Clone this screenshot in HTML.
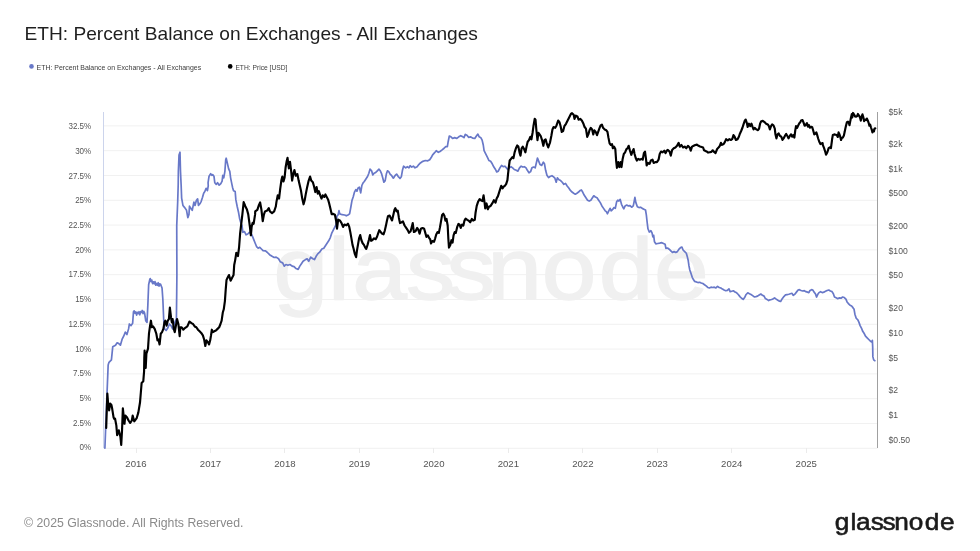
<!DOCTYPE html>
<html lang="en"><head><meta charset="utf-8"><title>ETH: Percent Balance on Exchanges - All Exchanges</title>
<style>
html,body{margin:0;padding:0;background:#fff}
body{width:980px;height:551px;overflow:hidden}
svg{display:block}
text{font-family:"Liberation Sans",sans-serif}
</style></head><body>
<svg width="980" height="551" viewBox="0 0 980 551">
<rect width="980" height="551" fill="#fff"/>
<g stroke="#f1f1f1" stroke-width="1">
<line x1="103.5" y1="448.3" x2="877.5" y2="448.3"/>
<line x1="103.5" y1="423.5" x2="877.5" y2="423.5"/>
<line x1="103.5" y1="398.7" x2="877.5" y2="398.7"/>
<line x1="103.5" y1="373.9" x2="877.5" y2="373.9"/>
<line x1="103.5" y1="349.1" x2="877.5" y2="349.1"/>
<line x1="103.5" y1="324.3" x2="877.5" y2="324.3"/>
<line x1="103.5" y1="299.5" x2="877.5" y2="299.5"/>
<line x1="103.5" y1="274.7" x2="877.5" y2="274.7"/>
<line x1="103.5" y1="249.9" x2="877.5" y2="249.9"/>
<line x1="103.5" y1="225.1" x2="877.5" y2="225.1"/>
<line x1="103.5" y1="200.3" x2="877.5" y2="200.3"/>
<line x1="103.5" y1="175.5" x2="877.5" y2="175.5"/>
<line x1="103.5" y1="150.7" x2="877.5" y2="150.7"/>
<line x1="103.5" y1="125.9" x2="877.5" y2="125.9"/>
</g>
<g stroke="#ebebeb" stroke-width="1" shape-rendering="crispEdges">
<line x1="136" y1="448" x2="136" y2="453"/>
<line x1="210.47" y1="448" x2="210.47" y2="453"/>
<line x1="284.94" y1="448" x2="284.94" y2="453"/>
<line x1="359.41" y1="448" x2="359.41" y2="453"/>
<line x1="433.88" y1="448" x2="433.88" y2="453"/>
<line x1="508.35" y1="448" x2="508.35" y2="453"/>
<line x1="582.82" y1="448" x2="582.82" y2="453"/>
<line x1="657.29" y1="448" x2="657.29" y2="453"/>
<line x1="731.76" y1="448" x2="731.76" y2="453"/>
<line x1="806.23" y1="448" x2="806.23" y2="453"/>
</g>
<text transform="scale(1.13,1)" x="242.04 290.34 311.69 359.39 395.19 431.30 479.35 529.87 578.78" y="299.2" font-size="87" fill="#f0f0f0" stroke="#f0f0f0" stroke-width="1.4" stroke-linejoin="round">glassnode</text>
<line x1="103.5" y1="112" x2="103.5" y2="448" stroke="#ccd4ec" stroke-width="1" shape-rendering="crispEdges"/>
<line x1="877.5" y1="112" x2="877.5" y2="448" stroke="#a0a0a0" stroke-width="1" shape-rendering="crispEdges"/>
<g font-size="8.5" fill="#555" text-anchor="end">
<text x="91.2" y="450.40" textLength="11.61" lengthAdjust="spacingAndGlyphs">0%</text>
<text x="91.2" y="425.69" textLength="18.31" lengthAdjust="spacingAndGlyphs">2.5%</text>
<text x="91.2" y="400.98" textLength="11.61" lengthAdjust="spacingAndGlyphs">5%</text>
<text x="91.2" y="376.27" textLength="18.31" lengthAdjust="spacingAndGlyphs">7.5%</text>
<text x="91.2" y="351.56" textLength="16.07" lengthAdjust="spacingAndGlyphs">10%</text>
<text x="91.2" y="326.85" textLength="22.77" lengthAdjust="spacingAndGlyphs">12.5%</text>
<text x="91.2" y="302.14" textLength="16.07" lengthAdjust="spacingAndGlyphs">15%</text>
<text x="91.2" y="277.43" textLength="22.77" lengthAdjust="spacingAndGlyphs">17.5%</text>
<text x="91.2" y="252.72" textLength="16.07" lengthAdjust="spacingAndGlyphs">20%</text>
<text x="91.2" y="228.01" textLength="22.77" lengthAdjust="spacingAndGlyphs">22.5%</text>
<text x="91.2" y="203.30" textLength="16.07" lengthAdjust="spacingAndGlyphs">25%</text>
<text x="91.2" y="178.59" textLength="22.77" lengthAdjust="spacingAndGlyphs">27.5%</text>
<text x="91.2" y="153.88" textLength="16.07" lengthAdjust="spacingAndGlyphs">30%</text>
<text x="91.2" y="129.17" textLength="22.77" lengthAdjust="spacingAndGlyphs">32.5%</text>
</g>
<g font-size="8.6" fill="#555">
<text x="888.6" y="114.7">$5k</text>
<text x="888.6" y="147.4">$2k</text>
<text x="888.6" y="171.9">$1k</text>
<text x="888.6" y="196.4">$500</text>
<text x="888.6" y="229">$200</text>
<text x="888.6" y="253.8">$100</text>
<text x="888.6" y="278">$50</text>
<text x="888.6" y="311">$20</text>
<text x="888.6" y="336">$10</text>
<text x="888.6" y="360.7">$5</text>
<text x="888.6" y="393.4">$2</text>
<text x="888.6" y="418.2">$1</text>
<text x="888.6" y="442.7">$0.50</text>
</g>
<g font-size="9.6" fill="#555" text-anchor="middle">
<text x="136" y="467.3">2016</text>
<text x="210.47" y="467.3">2017</text>
<text x="284.94" y="467.3">2018</text>
<text x="359.41" y="467.3">2019</text>
<text x="433.88" y="467.3">2020</text>
<text x="508.35" y="467.3">2021</text>
<text x="582.82" y="467.3">2022</text>
<text x="657.29" y="467.3">2023</text>
<text x="731.76" y="467.3">2024</text>
<text x="806.23" y="467.3">2025</text>
</g>
<path d="M104.9,448.27 L106.53,405.82 L108.16,365 L108.98,362.35 L111.43,359.9 L112.73,346.84 L115.51,345.2 L117.14,342.76 L118.78,343.57 L120.41,345.2 L122.04,339.49 L123.67,336.22 L125.31,332.14 L126.94,334.59 L128.57,328.88 L129.39,323.98 L131.02,325.61 L132.65,323.16 L133.47,311.73 L134.2,310.85 L135,313.29 L135.8,311.96 L136.6,315.12 L137.4,312.28 L138.2,313.52 L139,311.75 L139.8,314.76 L140.6,311.68 L141.4,312.43 L142.2,310.5 L143,313.66 L143.8,311.41 L144.6,313.04 L145.71,320.71 L147.02,322.35 L147.84,305.2 L148.65,284.8 L149.8,279.41 L150.2,278.53 L151,281.57 L151.8,280.07 L152.6,283.67 L153.4,281.79 L154.2,283.79 L155,281.61 L155.8,285.21 L156.6,283.41 L157.4,285.25 L158.2,282.74 L159,286.1 L159.8,283.9 L160.6,284.36 L162.04,288.06 L162.86,299.49 L163.67,319.08 L164.49,328.88 L166.12,330.51 L167.76,328.06 L169.39,323.98 L171.02,325.61 L172.65,328.88 L174.29,323.98 L175.43,320.71 L176.41,319.08 L176.73,291.33 L176.9,275 L176.73,225.82 L177.71,201.33 L178.2,185 L178.37,171.29 L179.02,154.96 L180,152.18 L180.49,171.29 L181.14,185 L181.63,198.06 L182.94,205.41 L184.9,207.86 L186.53,210.31 L187.84,217.65 L188.98,214.39 L189.47,206.22 L191.1,208.67 L192.24,210.31 L193.88,202.14 L195.02,205.41 L196.33,200.51 L197.63,198.88 L198.45,205.41 L199.92,203.78 L201.22,201.33 L202.53,197.24 L203.67,193.16 L204.82,191.53 L206.12,188.27 L207.43,190.71 L208.24,185.82 L208.08,182.71 L209.06,176.18 L210.69,173.73 L211.84,175.37 L212.65,174.55 L213.96,176.18 L214.78,182.71 L216.24,184.35 L217.55,182.71 L219.18,185.16 L220.82,183.53 L222.12,181.08 L222.78,175.37 L223.76,177.82 L224.9,171.29 L225.71,159.86 L226.2,158.22 L227.35,163.12 L228.65,168.84 L229.8,171.29 L230.61,177.82 L231.92,184.35 L232.57,187.45 L233.55,190.71 L235.18,191.53 L235.84,199.69 L237.14,206.22 L238.45,211.94 L239.59,218.47 L240.73,222.55 L242.04,225.82 L242.86,232.35 L244.49,231.53 L246.12,234.8 L247.76,233.98 L249.39,232.35 L250,232.65 L251.63,234.29 L253.27,238.37 L254.9,242.45 L256.53,246.53 L258.16,248.16 L259.8,247.35 L261.43,248.98 L263.06,250.61 L265.51,250.94 L267.14,252.24 L269.59,254.69 L272.04,256.33 L274.16,257.47 L276.12,257.14 L278.57,258.78 L280.2,261.71 L282.65,262.86 L284.29,266.12 L285.92,264.49 L287.88,265.31 L290,264.49 L292.12,266.12 L294.08,266.61 L296.04,268.57 L298.16,269.39 L299.8,266.12 L301.43,263.67 L303.06,261.22 L305.51,259.59 L307.14,258.78 L308.78,261.22 L310.73,257.14 L312.86,258.78 L314.49,259.59 L316.12,256.33 L317.76,253.88 L319.88,251.92 L321.84,248.98 L323.8,248.16 L325.43,245.71 L327.06,243.27 L328.69,240.82 L330.33,237.55 L331.63,233.47 L333.27,230.2 L334.9,226.94 L336.2,224.49 L336.86,216.33 L338.16,214.69 L338.98,210.61 L339.8,213.88 L342.24,214.69 L344.69,215.02 L346.33,215.84 L347.96,215.02 L349.59,213.88 L350.9,206.73 L352.04,200.2 L353.18,196.94 L354.49,192.04 L355.8,189.59 L356.94,191.22 L358.08,187.96 L359.39,187.14 L360.69,192.86 L361.84,185.51 L362.98,183.06 L364.29,181.43 L365.92,178.98 L367.55,176.53 L368.86,173.27 L370,169.18 L371.63,170.82 L372.78,174.9 L374.08,173.27 L375.71,172.45 L377.35,170.82 L378.98,169.18 L380.29,170.82 L381.43,173.27 L382.57,177.35 L383.88,182.24 L385.18,180.61 L386.33,174.08 L387.47,170.82 L388.78,171.63 L390.08,174.08 L391.71,175.71 L393.35,178.16 L394.98,175.71 L396.61,174.08 L398.24,176.53 L399.39,177.67 L400,178.47 L401.31,176.84 L402.45,170.31 L403.59,166.22 L405.71,167.86 L407.35,166.71 L408.98,167.86 L410.12,165.73 L411.76,167.04 L413.39,166.22 L415.02,167.86 L417.14,166.71 L418.78,164.59 L420.41,162.96 L422.86,161.33 L425.31,160.51 L427.76,160.84 L429.71,159.69 L431.35,157.24 L432.65,154.8 L434.61,152.67 L436.24,150.71 L438.37,152.35 L440,151.53 L442.12,149.9 L444.08,148.27 L445.71,146.63 L447.35,146.63 L448.16,141.73 L449.31,136.02 L450.94,136.84 L452.57,138.47 L454.69,137.65 L456.82,138.47 L458.78,136.84 L460.73,135.69 L462.86,136.84 L464,137.65 L465.31,134.39 L466.94,135.2 L468.57,137.33 L470.53,136.84 L472.65,138.14 L474.78,138.47 L476.41,136.02 L477.88,134.06 L479.18,136.84 L480.82,137.65 L482.12,140.1 L483.27,145 L484.08,150.71 L485.71,153.98 L487.35,157.24 L488.98,160.51 L490.61,161.33 L492.24,163.78 L493.88,167.04 L495.51,169.49 L496.65,171.94 L498.29,171.12 L499.92,167.86 L501.55,165.41 L503.18,166.71 L504.82,166.22 L506.45,167.86 L507.76,169.49 L509.39,167.86 L511.02,166.71 L512.65,167.86 L514.29,169.49 L516.24,170.31 L517.88,171.12 L519.51,167.86 L521.14,166.22 L522.78,167.04 L524.41,166.71 L526.04,167.86 L527.35,170.31 L528.98,172.76 L530.61,171.61 L531.92,167.86 L533.55,167.04 L535.18,167.86 L536.33,162.96 L537.47,158.06 L538.78,161.33 L540.08,164.59 L541.71,165.41 L543.35,162.14 L544.49,163.78 L545.63,170.31 L546.94,175.2 L548.57,177.65 L550,176.53 L551.96,175.71 L553.59,176.86 L554.9,178.16 L556.2,182.24 L557.35,177.84 L558.98,179.8 L560.61,180.61 L562.24,182.24 L563.88,184.37 L565.51,183.39 L567.14,186 L568.78,187.96 L570.41,190.41 L572.04,192.04 L573.67,193.18 L575.31,194.16 L576.94,193.18 L578.57,192.04 L580.2,190.41 L581.35,189.92 L582.65,192.04 L584.29,195.31 L585.92,197.76 L587.55,200.2 L589.18,201.02 L590.82,200.2 L592.45,197.76 L593.76,195.8 L595.39,196.94 L597.02,197.76 L598.65,200.2 L600.29,202.65 L601.92,205.92 L603.55,208.37 L605.18,210.82 L606.33,211.63 L607.47,213.76 L608.78,210.82 L610.08,208.37 L611.22,210.82 L612.86,209.18 L614,207.55 L615.31,208.37 L616.61,201.84 L617.76,200.2 L618.9,201.02 L620.2,199.39 L621.51,204.29 L622.65,206.73 L623.8,208.86 L625.1,205.92 L626.73,205.1 L628.37,205.92 L630,205.59 L631.63,207.22 L633.27,205.92 L634.08,201.84 L634.9,197.43 L635.88,202.65 L637.35,206.73 L638.98,207.55 L640.61,207.22 L642.24,208.37 L643.88,209.18 L645.51,210 L646.33,214.9 L647.14,222.24 L647.96,228.78 L649.27,232.04 L650.9,230.73 L652.04,232.86 L652.86,236.94 L653.67,235.31 L654.49,241.84 L655.8,243.8 L657.76,243.47 L659.71,243.14 L661.84,242.65 L663.47,243.47 L665.1,244.29 L665.92,248.37 L667.55,248.04 L669.18,249.18 L670.82,250.82 L672.45,252.45 L674.08,251.63 L675.71,252.45 L677.35,251.63 L678.98,249.18 L680.61,247.55 L681.92,247.06 L683.06,250 L684.69,251.63 L686.33,253.27 L687.47,257.35 L688.16,260.2 L688.98,265.92 L689.8,270 L690.94,273.27 L692.24,277.35 L693.55,279.8 L694.69,281.43 L696.33,281.92 L697.96,282.57 L699.59,282.24 L701.22,283.06 L702.86,283.55 L704.49,284.69 L706.12,285.84 L707.76,287.47 L709.39,287.96 L711.02,287.14 L712.65,287.47 L714.29,287.14 L715.92,287.96 L717.55,286.33 L719.18,287.47 L720.82,287.96 L722.45,289.1 L724.08,290.08 L725.71,290.73 L727.35,290.41 L728.98,288.78 L730.12,291.71 L731.76,291.22 L733.39,290.73 L735.02,292.04 L736.65,292.86 L738.29,294.49 L739.92,296.61 L741.55,298.24 L743.18,299.39 L744.49,297.76 L746.12,294.49 L747.76,292.86 L749.39,293.67 L751.02,294.49 L752.65,295.63 L754.29,296.94 L755.92,296.61 L757.55,296.12 L759.18,294.98 L760.82,294 L762.45,295.31 L764.08,296.12 L765.39,298.57 L767.02,299.39 L768.65,300.53 L770,299.82 L771.63,299.49 L773.27,298.67 L774.57,297.86 L776.2,299.16 L777.84,300.31 L779.47,301.12 L780.61,301.45 L782.24,298.67 L783.88,296.55 L785.51,294.92 L787.14,294.59 L788.78,294.27 L790.41,293.78 L792.04,293.29 L793.18,295.41 L794.82,294.27 L796.45,292.14 L798.08,290.02 L799.39,289.69 L801.02,290.51 L802.65,291 L804.29,290.67 L805.92,291.65 L807.55,292.14 L808.86,292.63 L810,290.51 L811.63,289.69 L812.78,290.02 L814.08,292.14 L815.39,293.78 L816.53,297.04 L817.67,294.59 L818.98,292.63 L820.61,291.65 L822.24,292.63 L823.88,292.14 L825.51,291.33 L827.14,290.51 L828.78,290.02 L830.41,291 L832.04,291.65 L833.35,293.78 L834.49,297.04 L836.12,297.86 L837.76,298.67 L839.39,297.86 L841.02,298.18 L842.65,297.04 L844.29,297.53 L845.92,299.16 L847.06,301.94 L848.37,303.57 L850,305.2 L851.63,306.02 L852.94,307.65 L854.08,309.29 L854.9,314.18 L856.2,318.27 L857.84,319.9 L858.98,322.35 L860.12,325.61 L861.43,328.06 L862.73,331.33 L864.37,333.78 L865.51,336.22 L867.14,337.86 L868.78,339.49 L870.41,341.12 L871.55,341.94 L872.37,340.31 L872.69,346.84 L872.86,356.63 L873.67,359.9 L874.82,360.71" fill="none" stroke="#6878c8" stroke-width="1.7" stroke-linejoin="round" stroke-linecap="round"/>
<path d="M106.2,427.86 L107.35,393.57 L108.16,404.18 L109.14,410.39 L110.12,403.53 L111.43,405 L112.24,409.08 L113.55,417.24 L114.2,418.88 L115.02,418.55 L116.33,425.41 L117.14,435.2 L118.78,430.31 L120.41,436.84 L121.22,445 L122.04,430.31 L122.86,408.27 L124.49,423.78 L125.31,415.61 L126.94,417.24 L128.57,420.51 L130.2,422.96 L131.84,420.51 L132.65,415.61 L134.29,421.33 L136.73,418.06 L138.37,412.35 L140,402.55 L140.82,392.76 L141.63,382.96 L143.27,381.33 L144.08,371.53 L144.3,358 L144.6,350.6 L145.2,361 L145.7,368 L146.4,353.7 L148,348.6 L149,333.3 L150,326.1 L150.94,320.71 L151.92,327.24 L153.06,326.43 L154.69,328.88 L156.33,333.78 L157.47,340.31 L158.45,339.49 L159.59,344.39 L160.73,333.78 L162.04,332.14 L163.35,328.88 L164.49,322.35 L165.31,320.71 L166.61,325.61 L167.76,320.71 L168.9,319.08 L169.88,307.65 L171.02,317.45 L171.84,322.35 L172.65,319.08 L173.8,328.88 L174.78,332.14 L175.92,325.61 L177.06,319.08 L178.37,323.98 L179.67,336.22 L180.33,327.24 L181.63,327.24 L183.27,329.69 L184.9,328.06 L187.35,326.43 L189.47,321.53 L191.43,323.16 L193.06,323.98 L194.69,326.43 L196.33,327.24 L197.96,329.69 L199.59,331.33 L201.22,332.96 L202.86,335.41 L204.16,339.49 L205.31,346.02 L206.45,340.31 L207.76,341.94 L209.06,344.39 L210.2,340.31 L211.02,335.41 L211.84,329.69 L212.98,332.14 L214.29,331.33 L215.92,330.51 L217.55,328.88 L219.18,327.24 L220.49,323.98 L221.63,320.71 L222.78,312.55 L223.76,309.29 L224.9,301.12 L225.71,289.69 L226.53,279.9 L227.67,277.45 L228.98,275 L230.61,280.71 L232.24,277.45 L233.55,275 L234.2,265 L235.18,260.1 L236.33,252.76 L237.96,256.02 L239.1,247.04 L240.08,233.98 L241.22,224.18 L242.37,214.39 L243.67,202.14 L245.31,206.22 L246.94,209.49 L248.24,214.39 L249.22,221.73 L250.04,227.78 L250.86,235.29 L251.67,226.63 L252.65,222.88 L253.63,223.86 L255.1,214.39 L255.22,211.43 L257.35,209.8 L258.98,204.9 L260.12,202.45 L261.43,209.8 L262.73,221.22 L263.88,214.69 L265.02,211.43 L267.14,210.61 L268.78,208.16 L269.92,211.43 L272.04,213.06 L274.16,211.43 L275.8,206.53 L276.45,201.84 L277.76,195.31 L279.06,198.57 L280.2,188.78 L281.35,180.61 L282.33,176.53 L283.47,181.43 L284.61,177.35 L285.59,167.55 L286.73,161.02 L287.55,157.76 L288.86,168.37 L290,161.84 L291.14,170.82 L292.12,180.61 L293.27,174.08 L294.41,170 L295.71,175.71 L297.35,174.08 L298.65,180.61 L299.8,185.51 L300.94,190.41 L302.24,198.57 L303.55,204.29 L304.69,200.2 L305.84,193.67 L307.14,187.14 L308.45,181.43 L310.08,176.53 L311.22,180.61 L312.86,182.24 L314,186.33 L315.31,192.04 L316.61,187.14 L317.76,193.67 L318.9,191.22 L320.2,195.31 L321.51,198.57 L322.65,195.31 L324.29,196.94 L325.43,194.49 L326.73,196.94 L328.04,199.39 L329.18,203.47 L330.33,208.37 L331.63,214.08 L333.27,213.88 L334.9,214.69 L336.2,221.22 L337.02,228.57 L338.16,219.59 L339.8,220.41 L341.43,222.86 L343.06,226.94 L344.37,224.49 L346.33,225.31 L347.96,223.67 L349.27,226.94 L350.41,232.65 L351.55,239.18 L352.53,244.9 L353.67,248.98 L354.82,253.88 L356.12,257.14 L356.94,250.61 L358.08,244.08 L359.06,238.37 L360.2,235.1 L361.35,240 L362.65,243.27 L363.96,244.9 L365.1,247.35 L366.24,248.98 L367.55,244.9 L368.86,240 L370,235.1 L371.14,240.82 L372.45,240 L374.08,238.37 L375.71,239.18 L377.02,236.73 L378.16,233.47 L379.31,230.2 L380.61,231.84 L381.92,233.47 L383.55,234.29 L384.69,231.02 L385.84,226.12 L386.82,221.22 L387.96,216.33 L389.59,215.51 L390.73,217.96 L392.04,220.41 L393.35,214.69 L394.49,209.8 L395.31,208.16 L396.61,211.43 L397.76,210.61 L398.9,217.96 L400,223.06 L401.63,222.24 L402.94,221.43 L404.57,225.51 L406.2,227.96 L407.84,230.41 L408.98,232.86 L410.61,231.22 L411.76,227.14 L412.73,223.06 L413.88,232.04 L415.51,231.22 L417.14,227.96 L418.29,229.59 L419.59,233.67 L420.9,228.78 L422.53,227.96 L424.16,228.78 L425.31,232.86 L426.45,236.94 L427.76,235.31 L429.06,237.76 L430.2,239.39 L431.02,243.47 L432.33,241.02 L433.96,241.84 L435.1,238.57 L436.24,234.49 L437.55,232.04 L438.86,232.86 L440,227.14 L441.14,220.61 L442.12,214.9 L443.27,213.76 L444.41,215.71 L445.39,220.61 L446.53,218.98 L447.67,225.51 L448.33,238.57 L448.98,247.55 L450.29,245.1 L451.43,240.2 L452.57,242.65 L453.55,235.31 L454.69,232.04 L455.84,232.86 L457.14,227.14 L458.45,223.88 L459.59,224.69 L460.73,227.96 L462.04,224.69 L463.35,225.51 L464.49,220.61 L465.63,218.65 L467.27,219.8 L468.57,220.61 L470.2,222.24 L471.84,218.98 L473.14,220.61 L474.78,219.8 L475.59,212.45 L476.73,205.92 L478.04,201.84 L479.67,199.06 L480.82,200.2 L482.45,201.02 L483.59,195.31 L484.57,202.65 L485.22,208.37 L486.53,203.47 L487.84,209.18 L488.98,206.73 L490.61,205.92 L492.24,203.47 L493.88,200.2 L495.51,202.65 L496.65,198.57 L497.96,196.12 L499.92,189.9 L501.22,185.82 L502.53,188.27 L503.67,186.63 L504.82,185.82 L506.12,184.18 L507.43,180.1 L508.08,173.57 L509.06,165.41 L509.71,160.51 L511.02,158.88 L512.33,157.24 L513.47,158.06 L514.61,152.35 L515.92,148.27 L517.22,145.49 L518.37,146.63 L519.51,152.35 L520.49,155.61 L521.63,148.27 L522.78,146.63 L524.08,149.08 L525.39,152.35 L526.53,146.63 L527.67,141.73 L528.98,140.1 L530.29,136.84 L531.43,139.29 L532.57,132.76 L533.55,125.41 L534.69,118.88 L535.51,119.69 L536.33,129.49 L537.47,140.1 L538.45,132.76 L539.59,134.39 L540.73,136.02 L542.04,140.1 L543.35,145.82 L544.49,140.1 L545.63,139.29 L546.94,144.18 L548.24,147.45 L549.39,144.18 L550,142.55 L551.31,136.02 L552.45,129.49 L553.59,127.04 L555.22,127.86 L556.53,125.41 L558.16,120.51 L559.47,122.14 L560.61,126.22 L561.76,131.94 L563.06,131.12 L564.37,126.22 L566,123.78 L567.63,120.51 L569.27,117.24 L570.9,113.98 L572.04,113.16 L573.67,114.8 L574.49,118.88 L575.8,115.61 L577.43,116.43 L578.57,119.69 L580.2,118.88 L581.84,120.51 L583.47,123.78 L584.61,127.04 L585.92,128.67 L587.22,136.84 L588.37,134.39 L589.51,130.31 L590.82,127.86 L592.12,129.49 L593.27,134.39 L594.41,130.31 L595.71,131.94 L597.02,135.2 L598.16,131.94 L599.31,128.67 L600.61,125.41 L601.92,124.59 L603.06,127.86 L604.69,129.49 L606.33,130.31 L607.47,131.94 L608.45,137.65 L609.59,143.37 L610.73,145 L612.04,144.18 L612.86,148.27 L614,146.63 L615.31,149.08 L616.12,160.51 L616.94,167.86 L618.24,162.14 L619.39,167.04 L620.53,162.14 L621.51,167.04 L622.65,158.88 L623.8,153.98 L625.1,152.35 L626.41,149.08 L627.55,148.27 L628.69,145.82 L630,150.71 L631.31,154.8 L632.45,151.53 L633.59,149.08 L634.57,153.98 L635.71,158.06 L636.86,160.51 L638.16,158.88 L639.8,159.69 L641.43,158.88 L642.73,159.69 L643.88,153.16 L645.02,151.53 L646,158.88 L646.65,165.41 L647.96,162.96 L649.59,163.78 L650.9,160.51 L652.53,159.69 L653.67,162.96 L655.31,162.14 L656.94,162.14 L658.57,159.69 L659.71,153.98 L661.02,151.53 L662.65,152.35 L664.29,150.71 L665.59,153.16 L666.73,150.71 L667.88,149.9 L669.51,151.53 L670.82,155.61 L672.12,149.9 L673.76,148.27 L675.39,147.45 L677.02,145.82 L678.65,142.88 L679.8,146.63 L681.43,145 L683.06,147.45 L684.69,146.63 L686.33,148.27 L687.96,145.82 L689.59,147.45 L690.73,150.71 L692.04,146.63 L693.67,145.82 L695.31,145 L696.94,144.67 L698.57,145.82 L700,146.53 L701.63,147.02 L703.1,147.51 L704.08,150.29 L706.53,151.43 L708.16,152.57 L709.8,152.24 L711.43,151.92 L712.73,150.29 L714.37,152.24 L715.51,153.06 L717.14,148.98 L718.78,147.35 L719.92,145.71 L720.9,142.78 L722.04,144.9 L723.67,144.08 L724.82,142.12 L726.12,139.18 L727.76,140.49 L729.39,139.18 L731.02,140 L732.33,138.86 L733.47,135.1 L734.61,136.73 L735.92,140 L737.55,139.18 L738.86,136.73 L740,133.47 L741.14,131.02 L742.45,127.76 L743.76,123.67 L744.9,120.41 L745.71,119.59 L747.02,123.67 L747.67,126.94 L748.98,123.67 L750.29,126.12 L751.43,123.67 L752.57,126.94 L753.55,129.39 L754.69,127.76 L756.33,129.39 L757.96,130.2 L759.1,128.57 L760.08,123.67 L761.22,121.22 L762.86,120.9 L764.49,122.04 L766.12,123.67 L767.76,124.49 L768.9,126.12 L769.88,129.39 L771.02,126.12 L772.16,124.49 L773.47,125.31 L774.78,128.57 L775.43,134.29 L776.41,138.37 L777.55,134.29 L778.69,133.47 L780,135.92 L781.31,136.73 L782.45,140 L783.59,138.37 L784.9,135.92 L786.2,133.96 L787.35,135.92 L788.49,138.37 L789.8,135.92 L791.1,134.29 L792.24,136.73 L793.39,135.1 L794.37,137.55 L795.18,131.02 L796,126.12 L797.14,127.76 L798.29,125.31 L799.59,122.86 L800,122.65 L801.02,120.61 L802.55,120.1 L803.57,122.65 L804.59,125.71 L805.61,125.2 L806.94,123.16 L807.96,126.73 L808.98,125.2 L810,127.76 L811.22,126.73 L812.24,127.24 L813.27,130.82 L814.29,134.39 L815.31,133.88 L816.33,132.35 L817.14,134.9 L818.16,138.47 L819.18,141.53 L820.41,144.08 L821.43,143.57 L822.65,143.06 L822.78,144.9 L824.08,148.16 L825.39,152.24 L826.04,154.69 L827.35,152.24 L828.65,148.16 L829.8,147.35 L830.94,148.16 L831.92,140.82 L832.14,138.98 L832.86,134.9 L834.18,134.39 L835.71,134.69 L836.94,135.41 L837.76,136.94 L838.57,132.35 L839.29,133.88 L840.31,136.94 L841.02,140 L841.84,137.96 L842.86,137.45 L843.88,135.41 L844.69,131.84 L845.41,128.27 L846.12,125.2 L846.94,122.14 L847.96,121.63 L848.78,122.65 L849.49,125.2 L850.2,121.63 L851.02,117.55 L851.84,113.98 L852.24,117.55 L853.06,112.96 L854.08,114.49 L855.1,116.53 L856.12,116.73 L857.14,116.02 L857.96,113.98 L858.98,115.51 L860,117.55 L860.82,120.61 L861.63,116.53 L862.45,114.29 L863.27,117.04 L864.08,121.12 L865.1,119.59 L866.12,120.1 L866.84,118.57 L867.86,120.61 L868.88,123.67 L869.39,125.71 L870.2,124.69 L870.92,127.24 L871.63,129.29 L872.45,132.35 L873.27,130.31 L873.98,131.33 L874.49,128.78 L875.31,128.27" fill="none" stroke="#000" stroke-width="2.15" stroke-linejoin="round" stroke-linecap="round"/>
<text x="24.5" y="40" font-size="18.4" fill="#1f1f1f" textLength="453.4" lengthAdjust="spacingAndGlyphs">ETH: Percent Balance on Exchanges - All Exchanges</text>
<circle cx="31.5" cy="66.4" r="2.3" fill="#6878c8"/>
<text x="36.6" y="69.6" font-size="7.7" fill="#3c3c3c" textLength="164.6" lengthAdjust="spacingAndGlyphs">ETH: Percent Balance on Exchanges - All Exchanges</text>
<circle cx="230.2" cy="66.4" r="2.3" fill="#000"/>
<text x="235.4" y="69.6" font-size="7.7" fill="#3c3c3c" textLength="52" lengthAdjust="spacingAndGlyphs">ETH: Price [USD]</text>
<text x="24.0" y="526.5" font-size="12.8" fill="#8a8a8a" textLength="219.4" lengthAdjust="spacingAndGlyphs">© 2025 Glassnode. All Rights Reserved.</text>
<text transform="scale(1.07,1)" x="780.14 794.80 800.13 813.88 824.86 835.79 849.36 864.25 878.63" y="529.8" font-size="24.5" fill="#1a1a1a" stroke="#1a1a1a" stroke-width="0.6" stroke-linejoin="round">glassnode</text>
</svg>
</body></html>
